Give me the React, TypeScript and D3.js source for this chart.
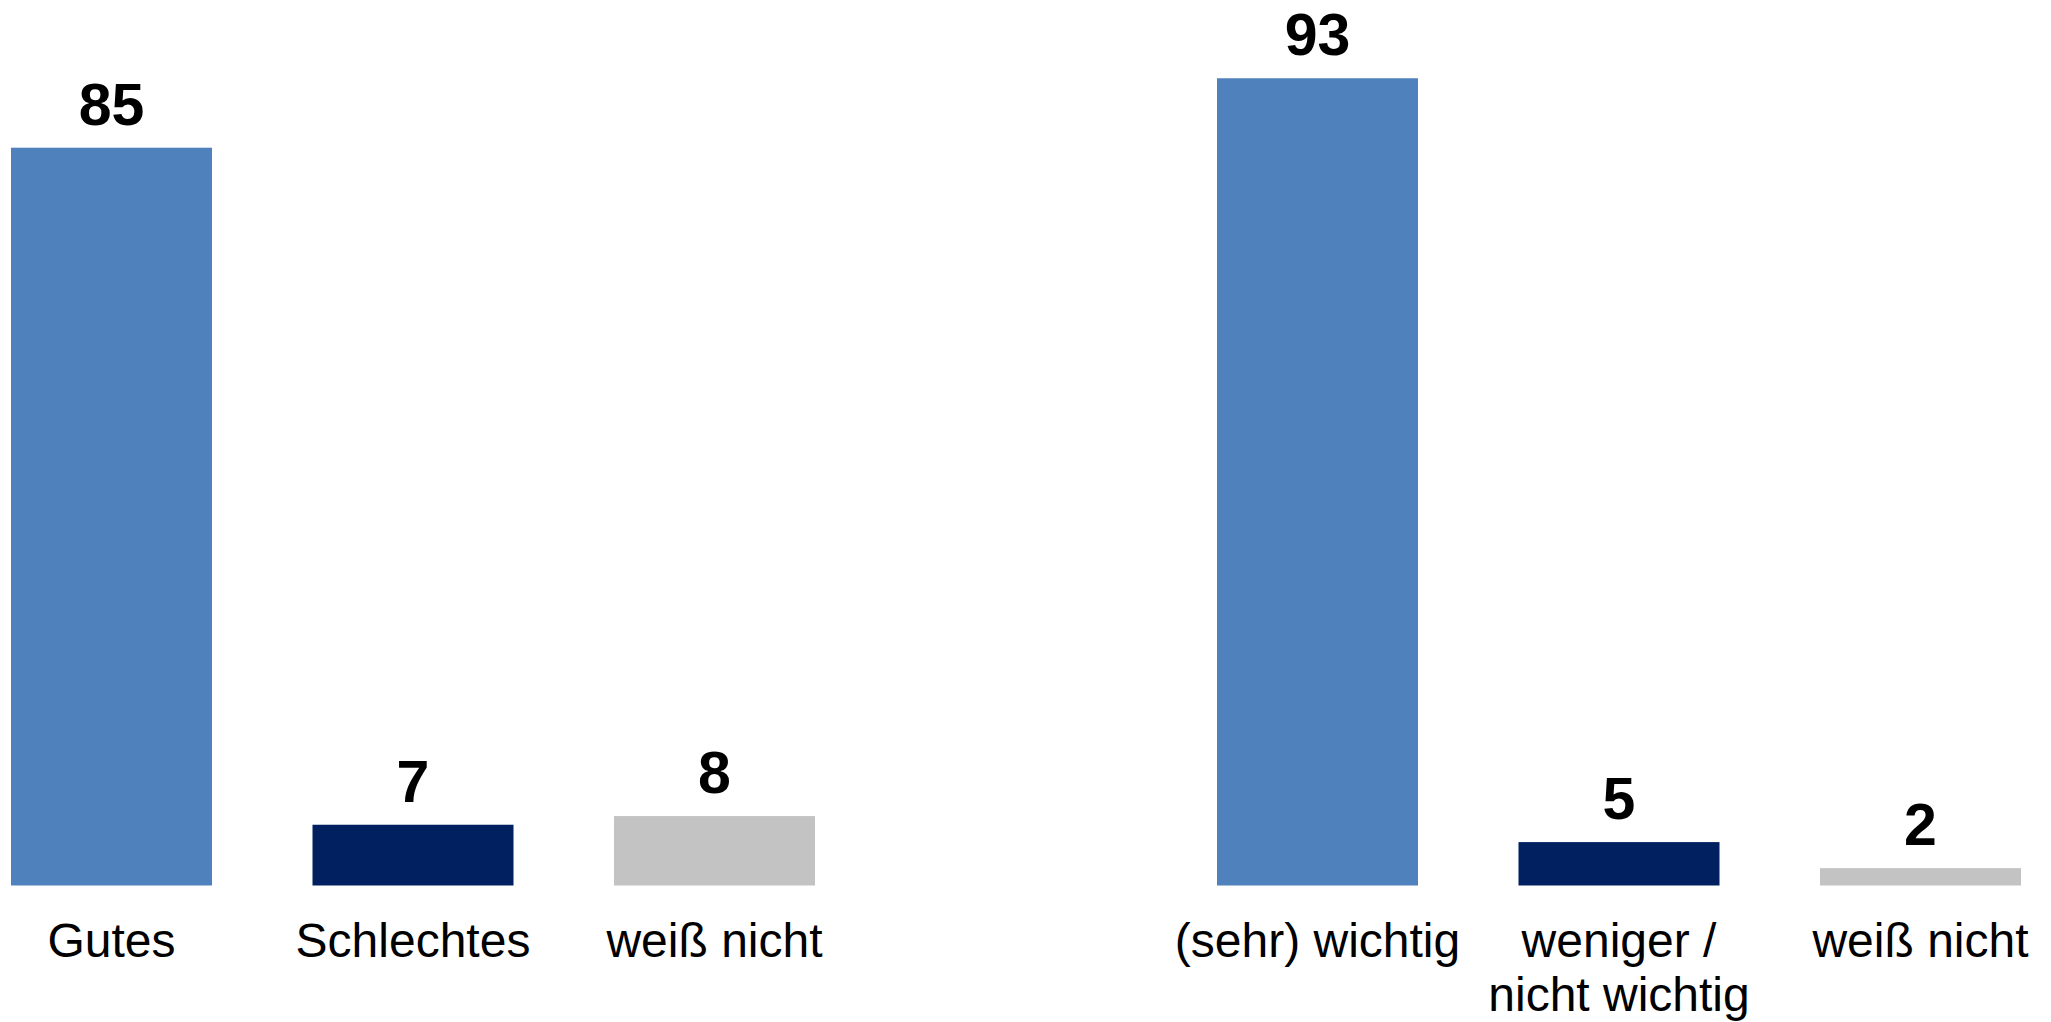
import React from "react";
import * as d3 from "d3";

const leftCategories = ["Gutes", "Schlechtes", "weiß nicht"];
const leftValues = [85, 7, 8];
const rightCategories = ["(sehr) wichtig", "weniger /\nnicht wichtig", "weiß nicht"];
const rightValues = [93, 5, 2];
const barColors = ["#4F81BD", "#002060", "#C3C3C3"];

const W = 2051;
const H = 1022;
const FONT = "'Liberation Sans', Arial, Helvetica, sans-serif";

type Item = { key: string; label: string; value: number; color: string };

const items: Item[] = [
  ...leftCategories.map((c, i) => ({ key: "L" + i, label: c, value: leftValues[i], color: barColors[i] })),
  ...rightCategories.map((c, i) => ({ key: "R" + i, label: c, value: rightValues[i], color: barColors[i] })),
];

const domain = ["L0", "L1", "L2", "gap", "R0", "R1", "R2"];

export default function App() {
  const x = d3.scaleBand<string>().domain(domain).range([11, 2021]).paddingInner(1 / 3).paddingOuter(0);
  const y = d3.scaleLinear().domain([0, 100]).range([885.5, 17.5]);

  return (
    <svg
      width={W}
      height={H}
      style={{ position: "absolute", left: 0, top: 0, background: "#fff" }}
      fontFamily={FONT}
    >
      <rect x={0} y={0} width={W} height={H} fill="#fff" />
      {items.map((d) => {
        const bx = x(d.key) as number;
        const bw = x.bandwidth();
        const cx = bx + bw / 2;
        const top = y(d.value);
        const lines = d.label.split("\n");
        return (
          <g key={d.key}>
            <rect x={bx} y={top} width={bw} height={y(0) - top} fill={d.color} />
            <text x={cx} y={top - 23} textAnchor="middle" fontSize={59} fontWeight="bold" fill="#000">
              {d.value}
            </text>
            {lines.map((ln, i) => (
              <text key={i} x={cx} y={956.5 + i * 54.5} textAnchor="middle" fontSize={48} fill="#000">
                {ln}
              </text>
            ))}
          </g>
        );
      })}
    </svg>
  );
}
